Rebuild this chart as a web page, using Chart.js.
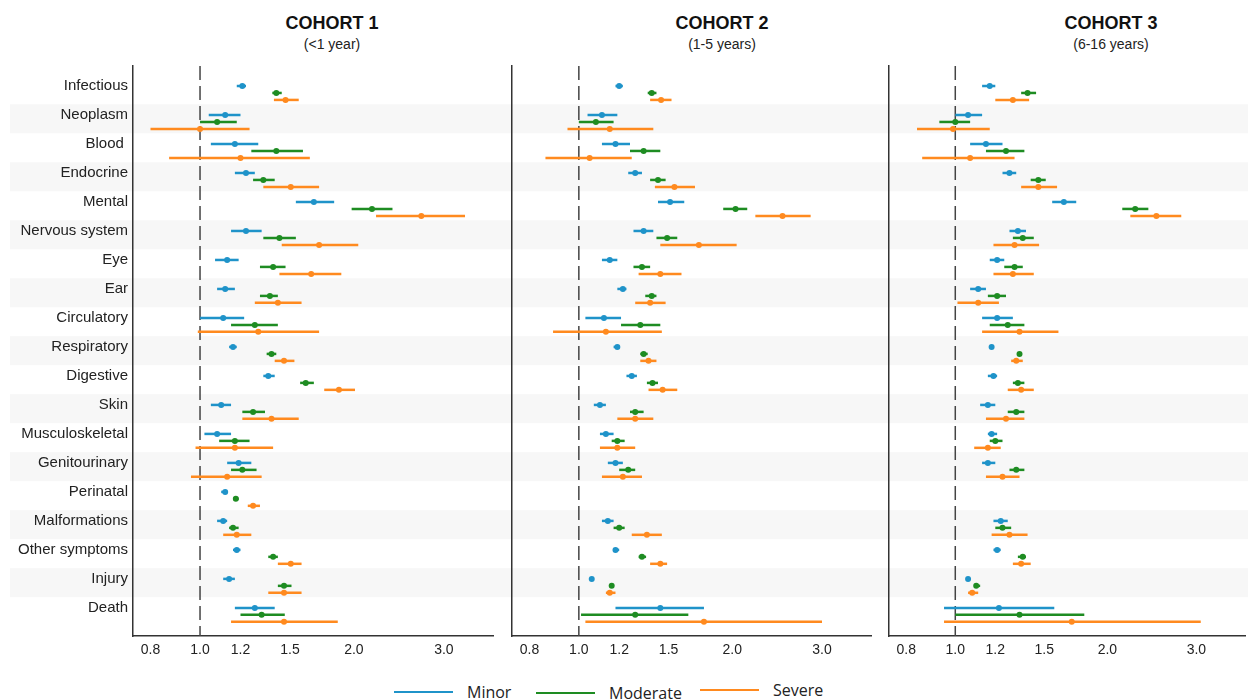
<!DOCTYPE html>
<html lang="en">
<head>
  <meta charset="UTF-8" />
  <title>Cohort forest plot</title>
  <script src="https://cdn.jsdelivr.net/npm/chart.js@4.4.1/dist/chart.umd.min.js"></script>
  <style>
    *{margin:0;padding:0;box-sizing:border-box}
    body{width:1248px;height:699px;background:#fff;position:relative;overflow:hidden;font-family:"Liberation Sans",Arial,sans-serif;color:#111}
    canvas{position:absolute;top:0}
    .ttl{position:absolute;transform:translateX(-50%);text-align:center;white-space:nowrap}
    .ttl b{display:block;font-size:18px;line-height:22px}
    .ttl span{display:block;font-size:14px;line-height:20px;color:#222}
    .leg{position:absolute;top:681px;height:22px;display:flex;align-items:center}
    .leg i{display:inline-block;width:59px;height:2.5px;margin-right:14px}
    .leg span{font-family:"Open Sans",sans-serif;font-size:16px;color:#222}
  </style>
</head>
<body>
  <div class="ttl" style="left:332px;top:12px"><b>COHORT 1</b><span>(&lt;1 year)</span></div>
  <div class="ttl" style="left:722px;top:12px"><b>COHORT 2</b><span>(1-5 years)</span></div>
  <div class="ttl" style="left:1111px;top:12px"><b>COHORT 3</b><span>(6-16 years)</span></div>
  <canvas id="c1" width="500" height="660" style="left:0"></canvas>
  <canvas id="c2" width="380" height="660" style="left:500px"></canvas>
  <canvas id="c3" width="368" height="660" style="left:880px"></canvas>
  <div class="leg" style="left:394px"><i style="background:#1f93c9"></i><span>Minor</span></div>
  <div class="leg" style="left:536px;top:682px"><i style="background:#1e8c22"></i><span>Moderate</span></div>
  <div class="leg" style="left:700px;top:679px"><i style="background:#ff8a1f"></i><span>Severe</span></div>
  <script>
    // categories and ticks
    const categories = ['Infectious','Neoplasm','Blood ','Endocrine','Mental','Nervous system','Eye','Ear','Circulatory','Respiratory','Digestive','Skin','Musculoskeletal','Genitourinary','Perinatal','Malformations','Other symptoms','Injury','Death'];
    const xTicks = [0.8, 1.0, 1.2, 1.5, 2.0, 3.0];
    const seriesNames = ['Minor','Moderate','Severe'];

    // [lower, estimate, upper] per category
    const c1Minor = [[1.18,1.21,1.23],[1.04,1.12,1.20],[1.05,1.17,1.30],[1.17,1.23,1.28],[1.54,1.67,1.83],[1.15,1.23,1.32],[1.07,1.13,1.19],[1.08,1.12,1.17],[1.00,1.11,1.22],[1.14,1.16,1.18],[1.33,1.36,1.40],[1.05,1.10,1.15],[1.02,1.08,1.15],[1.13,1.19,1.26],[1.10,1.12,1.13],[1.08,1.11,1.13],[1.16,1.18,1.20],[1.11,1.14,1.17],[1.17,1.28,1.40]];
    const c1Moderate = [[1.385,1.41,1.445],[1.00,1.08,1.18],[1.26,1.41,1.59],[1.27,1.33,1.40],[1.98,2.17,2.38],[1.33,1.43,1.54],[1.31,1.39,1.47],[1.31,1.37,1.42],[1.15,1.28,1.42],[1.35,1.38,1.41],[1.57,1.61,1.67],[1.21,1.27,1.34],[1.09,1.17,1.25],[1.15,1.21,1.29],[1.16,1.175,1.19],[1.14,1.16,1.19],[1.36,1.39,1.42],[1.42,1.46,1.51],[1.20,1.32,1.465]];
    const c1Severe = [[1.395,1.47,1.56],[0.80,1.00,1.25],[0.87,1.20,1.64],[1.33,1.505,1.71],[2.21,2.71,3.30],[1.445,1.71,2.04],[1.43,1.65,1.89],[1.28,1.42,1.58],[0.99,1.30,1.71],[1.40,1.46,1.53],[1.75,1.87,2.01],[1.21,1.38,1.56],[0.98,1.17,1.39],[0.96,1.13,1.32],[1.24,1.27,1.31],[1.11,1.18,1.26],[1.42,1.505,1.58],[1.36,1.46,1.58],[1.15,1.46,1.86]];

    const c2Minor = [[1.18,1.20,1.22],[1.04,1.11,1.19],[1.11,1.18,1.26],[1.25,1.29,1.33],[1.43,1.51,1.61],[1.28,1.34,1.40],[1.11,1.15,1.19],[1.19,1.22,1.24],[1.03,1.12,1.21],[1.17,1.19,1.20],[1.24,1.27,1.30],[1.07,1.10,1.13],[1.10,1.13,1.17],[1.14,1.18,1.22],null,[1.11,1.14,1.17],[1.17,1.18,1.20],[1.055,1.06,1.065],[1.18,1.445,1.76]];
    const c2Moderate = [[1.365,1.39,1.42],[1.00,1.08,1.17],[1.26,1.34,1.445],[1.38,1.43,1.48],[1.92,2.03,2.14],[1.42,1.49,1.56],[1.28,1.33,1.38],[1.35,1.39,1.42],[1.21,1.32,1.445],[1.32,1.34,1.365],[1.36,1.395,1.43],[1.26,1.29,1.34],[1.16,1.19,1.23],[1.20,1.25,1.29],null,[1.17,1.20,1.23],[1.31,1.33,1.355],[1.155,1.16,1.17],[1.01,1.29,1.64]];
    const c2Severe = [[1.38,1.45,1.52],[0.95,1.15,1.40],[0.86,1.05,1.27],[1.41,1.54,1.69],[2.22,2.51,2.85],[1.445,1.72,2.04],[1.31,1.445,1.59],[1.29,1.38,1.48],[0.89,1.13,1.455],[1.32,1.37,1.42],[1.37,1.46,1.56],[1.19,1.29,1.40],[1.10,1.19,1.29],[1.11,1.22,1.33],null,[1.27,1.36,1.455],[1.38,1.445,1.49],[1.13,1.15,1.18],[1.03,1.76,3.00]];

    const c3Minor = [[1.13,1.17,1.20],[1.00,1.06,1.13],[1.07,1.15,1.24],[1.24,1.28,1.32],[1.555,1.64,1.735],[1.28,1.33,1.38],[1.17,1.21,1.25],[1.07,1.11,1.15],[1.13,1.21,1.30],[1.176,1.18,1.186],[1.16,1.19,1.21],[1.12,1.16,1.20],[1.16,1.18,1.21],[1.13,1.16,1.20],null,[1.19,1.23,1.27],[1.19,1.21,1.23],[1.057,1.06,1.063],[0.95,1.22,1.57]];
    const c3Moderate = [[1.35,1.39,1.445],[0.93,1.00,1.07],[1.15,1.26,1.37],[1.41,1.46,1.51],[2.14,2.27,2.41],[1.30,1.36,1.43],[1.25,1.31,1.36],[1.16,1.21,1.26],[1.17,1.27,1.37],[1.33,1.34,1.355],[1.30,1.33,1.37],[1.27,1.32,1.37],[1.17,1.20,1.24],[1.28,1.32,1.37],null,[1.20,1.24,1.29],[1.33,1.36,1.38],[1.09,1.10,1.12],[1.00,1.34,1.80]];
    const c3Severe = [[1.20,1.30,1.40],[0.84,0.99,1.17],[0.86,1.07,1.31],[1.35,1.46,1.59],[2.22,2.50,2.80],[1.19,1.31,1.465],[1.19,1.30,1.43],[1.01,1.11,1.22],[1.13,1.34,1.60],[1.29,1.32,1.36],[1.27,1.35,1.43],[1.15,1.26,1.37],[1.09,1.16,1.23],[1.15,1.24,1.34],null,[1.18,1.28,1.39],[1.30,1.35,1.41],[1.06,1.08,1.11],[0.95,1.70,3.06]];

    const colors = ['#1f93c9','#1e8c22','#ff8a1f'];
    const offsets = [0, 0.24, 0.48];   // vertical offset of each severity inside a row
    const xMin = Math.exp(-0.302), xMax = Math.exp(1.32);
    const yMin = -0.69, yMax = 18.97;

    Chart.defaults.font.family = '"Liberation Sans", Arial, sans-serif';

    function toPoints(arr, k){
      return arr.map((t,i)=> t ? {x:t[1], y:i+offsets[k], lo:t[0], hi:t[2]} : null).filter(Boolean);
    }

    // striped rows, reference line at 1 and the interval lines
    const forestPlugin = {
      id:'forest',
      beforeDraw(chart, args, opts){
        const ctx = chart.ctx, y = chart.scales.y;
        ctx.save();
        ctx.fillStyle = '#f7f7f7';
        categories.forEach((c,i)=>{
          if(i%2!==1) return;
          const t = y.getPixelForValue(i-0.37), b = y.getPixelForValue(i+0.63);
          ctx.fillRect(opts.left, t, chart.width-opts.left, b-t);
        });
        ctx.restore();
      },
      beforeDatasetsDraw(chart){
        const {ctx, chartArea:a, scales:{x,y}} = chart;
        ctx.save();
        const x1 = x.getPixelForValue(1);
        ctx.strokeStyle = '#444'; ctx.lineWidth = 1.5; ctx.setLineDash([14,6]);
        ctx.beginPath(); ctx.moveTo(x1,a.top); ctx.lineTo(x1,a.bottom); ctx.stroke();
        ctx.setLineDash([]);
        chart.data.datasets.forEach(ds=>{
          ctx.strokeStyle = ds.borderColor; ctx.lineWidth = 2.5;
          ds.data.forEach(d=>{
            const py = y.getPixelForValue(d.y);
            ctx.beginPath();
            ctx.moveTo(x.getPixelForValue(d.lo), py);
            ctx.lineTo(x.getPixelForValue(d.hi), py);
            ctx.stroke();
          });
        });
        ctx.restore();
      }
    };

    function makeChart(id, series, cfg){
      return new Chart(document.getElementById(id), {
        type:'scatter',
        data:{datasets: series.map((arr,k)=>({label:seriesNames[k], data:toPoints(arr,k), borderColor:colors[k], backgroundColor:colors[k], pointRadius:3, pointHoverRadius:3, borderWidth:0}))},
        options:{
          responsive:false, animation:false, events:[],
          layout:{padding:{top:66, right:cfg.padRight, left:0, bottom:0}},
          plugins:{legend:{display:false}, tooltip:{enabled:false}, forest:{left:cfg.stripeLeft}},
          scales:{
            x:{type:'logarithmic', min:xMin, max:xMax, bounds:'data',
               grid:{display:false, drawTicks:false}, border:{display:true, color:'#333', width:1.5},
               afterBuildTicks:s=>{ s.ticks = xTicks.map(v=>({value:v})); s.min = xMin; s.max = xMax; },
               ticks:{padding:6, color:'#222', font:{size:14}, autoSkip:false, maxRotation:0, callback:v=>Number(v).toFixed(1)},
               afterFit:s=>{ s.height = 24; }},
            y:{type:'linear', reverse:true, min:yMin, max:yMax,
               grid:{display:false, drawTicks:false}, border:{display:true, color:'#333', width:1.5},
               afterBuildTicks:s=>{ s.ticks = categories.map((c,i)=>({value:i})); },
               ticks:{display:cfg.labels, padding:5, color:'#222', font:{size:15}, autoSkip:false, callback:v=>categories[v]},
               afterFit:s=>{ s.width = cfg.yWidth; }}
          }
        },
        plugins:[forestPlugin]
      });
    }

    makeChart('c1', [c1Minor, c1Moderate, c1Severe], {labels:true, yWidth:133, padRight:7, stripeLeft:10});
    makeChart('c2', [c2Minor, c2Moderate, c2Severe], {labels:false, yWidth:12, padRight:9, stripeLeft:0});
    makeChart('c3', [c3Minor, c3Moderate, c3Severe], {labels:false, yWidth:9, padRight:0, stripeLeft:0});
  </script>
</body>
</html>
